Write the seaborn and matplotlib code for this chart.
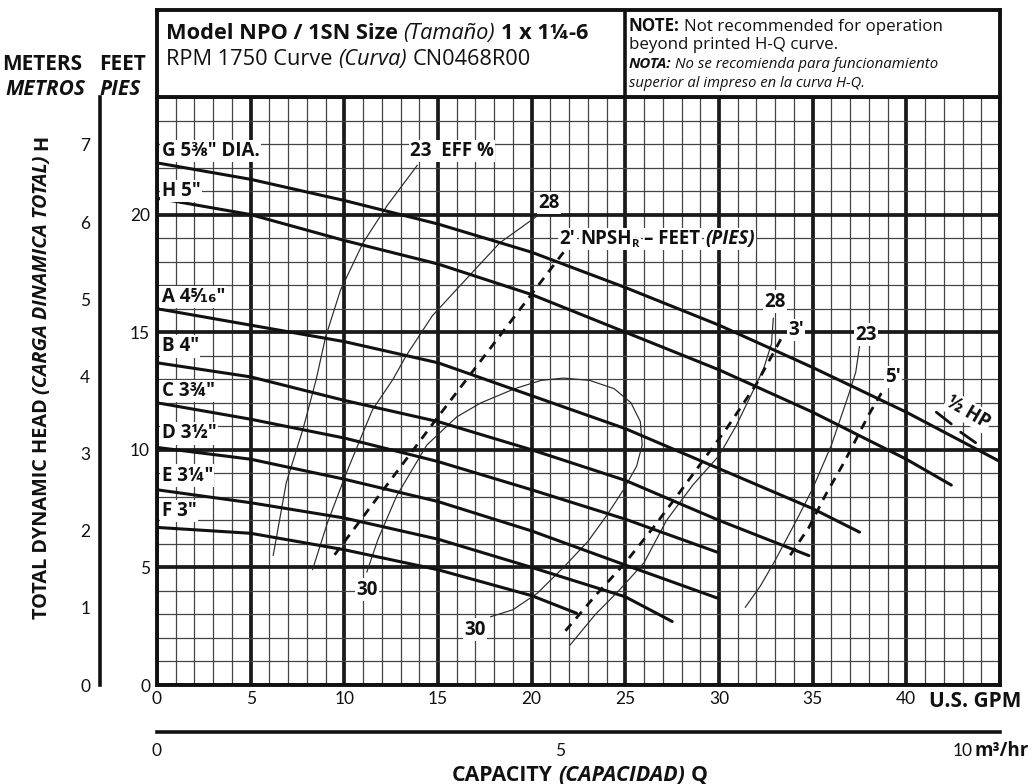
import numpy as np
import seaborn as sns
import matplotlib.pyplot as plt

sns.set_theme(style="white")
plt.rcParams['font.family'] = ['Open Sans', 'DejaVu Sans']

W, H = 1033, 784
GPM_PER_M3HR = 4.3
TICK_FONT = ['Liberation Sans Narrow', 'Lato', 'DejaVu Sans']

# H-Q curves per impeller diameter (U.S. GPM, feet)
impellers = ['G 5⅜" DIA.', 'H 5"', 'A 4⁵⁄₁₆"', 'B 4"', 'C 3¾"', 'D 3½"', 'E 3¼"', 'F 3"']
g_gpm = [0, 5, 10, 15, 20, 25, 30, 35, 40, 45]
g_head = [22.2, 21.5, 20.6, 19.6, 18.4, 16.9, 15.3, 13.5, 11.6, 9.5]
h_gpm = [0, 5, 10, 15, 20, 25, 30, 35, 40, 42.4]
h_head = [20.7, 20.0, 18.9, 17.9, 16.6, 15.0, 13.4, 11.6, 9.6, 8.5]
a_gpm = [0, 5, 10, 15, 20, 25, 30, 35, 37.5]
a_head = [16.0, 15.3, 14.6, 13.7, 12.3, 10.9, 9.2, 7.5, 6.5]
b_gpm = [0, 5, 10, 15, 20, 25, 30, 34.8]
b_head = [13.7, 13.1, 12.1, 11.2, 10.0, 8.7, 7.0, 5.5]
c_gpm = [0, 5, 10, 15, 20, 25, 29.9]
c_head = [12.0, 11.3, 10.5, 9.5, 8.3, 7.05, 5.65]
d_gpm = [0, 5, 10, 15, 20, 25, 29.9]
d_head = [10.1, 9.6, 8.75, 7.8, 6.55, 5.1, 3.7]
e_gpm = [0, 5, 10, 15, 20, 25, 27.5]
e_head = [8.3, 7.75, 7.1, 6.2, 5.0, 3.75, 2.7]
f_gpm = [0, 5, 10, 15, 20, 22.4]
f_head = [6.7, 6.45, 5.75, 4.9, 3.8, 3.05]
label_head = [22.7, 21.0, 16.5, 14.4, 12.5, 10.7, 8.9, 7.4]

# efficiency lines (%)
eff23_left_gpm = [13.9, 12.3, 11.0, 9.8, 9.0, 8.5, 7.8, 6.9, 6.2]
eff23_left_head = [22.1, 20.4, 18.8, 16.8, 14.8, 13.0, 10.9, 8.6, 5.5]
eff28_left_gpm = [20.4, 18.3, 16.9, 14.7, 13.3, 12.6, 11.5, 10.1, 9.1, 8.3]
eff28_left_head = [20.0, 18.8, 17.6, 15.7, 14.0, 13.0, 11.7, 9.0, 6.9, 4.9]
eff30_gpm = [11.2, 11.8, 12.8, 14.4, 16.0, 17.3, 19.1, 20.5, 21.7, 23.1, 24.4,
             25.3, 25.8, 25.9, 25.6, 24.9, 24.0, 23.0, 21.7, 20.3, 19.0, 17.8]
eff30_head = [4.8, 6.2, 8.05, 10.2, 11.4, 12.0, 12.6, 12.95, 13.05, 12.95, 12.6,
              12.0, 11.2, 10.2, 9.3, 8.3, 7.2, 6.1, 5.0, 3.9, 3.2, 2.9]
eff28_right_gpm = [32.9, 32.8, 32.4, 32.0, 30.9, 30.0, 28.6, 27.2, 26.0, 24.7, 23.4, 22.05]
eff28_right_head = [15.6, 14.5, 13.5, 12.8, 11.0, 9.75, 8.5, 7.0, 5.2, 4.05, 3.0, 1.7]
eff23_right_gpm = [37.5, 37.3, 36.9, 36.0, 35.0, 34.1, 33.0, 32.2, 31.4]
eff23_right_head = [14.4, 13.3, 12.3, 10.2, 8.35, 6.95, 5.3, 4.2, 3.3]

# NPSH required (feet)
npsh2_gpm = [21.7, 15.0, 9.4]
npsh2_head = [18.4, 11.4, 5.45]
npsh3_gpm = [33.3, 32.0, 30.4, 28.0, 26.5, 25.0, 23.4, 21.8]
npsh3_head = [14.7, 12.8, 10.9, 8.3, 6.7, 5.2, 3.8, 2.3]
npsh5_gpm = [39.1, 38.0, 36.7, 35.7, 34.8, 33.7]
npsh5_head = [13.0, 11.5, 9.5, 8.1, 6.7, 5.4]

# 1/2 HP marker
hp_gpm_1, hp_head_1 = [41.6, 42.4], [11.6, 11.1]
hp_gpm_2, hp_head_2 = [42.9, 43.7], [10.75, 10.3]

x_ticks = [0, 5, 10, 15, 20, 25, 30, 35, 40, 45]
x_labels = ['0', '5', '10', '15', '20', '25', '30', '35', '40', '']
y_ticks = [0, 5, 10, 15, 20, 25]
y_labels = ['0', '5', '10', '15', '20', '']
m_ticks = [0, 1, 2, 3, 4, 5, 6, 7]
q_ticks = [0, 5, 10]

fig = plt.figure(figsize=(W / 100, H / 100), dpi=100)


def box(left, top, right, bottom):
    return [left / W, 1 - bottom / H, (right - left) / W, (bottom - top) / H]


def rich(x, y, pieces, size, align='left', vertical=False, white=False):
    """Write pieces (text, weight, style[, scale, rise]) one after another.
    x, y are figure pixels from the top left; y is the baseline
    (or the centre, for vertical text)."""
    r = fig.canvas.get_renderer()
    space = size * 0.26 * 100 / 72
    placed, run = [], 0.0
    for p in pieces:
        s, weight, style = p[:3]
        scale = p[3] if len(p) > 3 else 1.0
        rise = p[4] if len(p) > 4 else 0.0
        if s.startswith(' '):
            run += space
            s = s.lstrip()
        kw = dict(fontsize=size * scale, fontweight=weight, fontstyle=style,
                  color='#111111', zorder=6)
        if white:
            kw['bbox'] = dict(facecolor='white', edgecolor='none', pad=1)
        if vertical:
            t = fig.text(0, 0, s, rotation=90, ha='center', va='bottom', **kw)
        else:
            t = fig.text(0, 0, s, ha='left', va='baseline', **kw)
        ext = t.get_window_extent(r)
        placed.append((t, run, rise))
        run += ext.height if vertical else ext.width
    start = run / 2 if (align == 'center' or vertical) else 0.0
    for t, off, rise in placed:
        if vertical:
            t.set_position((x / W, 1 - (y + start - off) / H))
        else:
            t.set_position(((x - start + off) / W, 1 - (y - rise) / H))


# main grid
ax = fig.add_axes(box(157, 97, 1000, 685))
ax.set_xlim(0, 45)
ax.set_ylim(0, 25)
ax.set_xticks(x_ticks)
ax.set_xticks(np.arange(0, 46, 1), minor=True)
ax.set_yticks(y_ticks)
ax.set_yticks(np.arange(0, 26, 1), minor=True)
ax.set_xticklabels(x_labels, family=TICK_FONT)
ax.set_yticklabels(y_labels, family=TICK_FONT)
ax.grid(True, which='major', color='#1a1a1a', linewidth=2.7)
ax.grid(True, which='minor', color='#444444', linewidth=0.9)
ax.set_axisbelow(True)
ax.tick_params(which='both', length=0, labelsize=12.5, colors='#111111')
ax.tick_params(axis='x', pad=4)
ax.tick_params(axis='y', pad=5)
for sp in ax.spines.values():
    sp.set_linewidth(2.8)
    sp.set_color('#111111')

curves = [(g_gpm, g_head), (h_gpm, h_head), (a_gpm, a_head), (b_gpm, b_head),
          (c_gpm, c_head), (d_gpm, d_head), (e_gpm, e_head), (f_gpm, f_head)]
for xs, ys in curves:
    sns.lineplot(x=xs, y=ys, ax=ax, color='#111111', linewidth=2.2,
                 estimator=None, sort=False, zorder=4)

effs = [(eff23_left_gpm, eff23_left_head), (eff28_left_gpm, eff28_left_head),
        (eff30_gpm, eff30_head), (eff28_right_gpm, eff28_right_head),
        (eff23_right_gpm, eff23_right_head)]
for xs, ys in effs:
    sns.lineplot(x=xs, y=ys, ax=ax, color='#2a2a2a', linewidth=0.85,
                 estimator=None, sort=False, zorder=3)

for xs, ys in [(npsh2_gpm, npsh2_head), (npsh3_gpm, npsh3_head), (npsh5_gpm, npsh5_head)]:
    sns.lineplot(x=xs, y=ys, ax=ax, color='#111111', linewidth=2.0,
                 linestyle=(0, (3.2, 2.6)), estimator=None, sort=False, zorder=4)

for xs, ys in [(hp_gpm_1, hp_head_1), (hp_gpm_2, hp_head_2)]:
    sns.lineplot(x=xs, y=ys, ax=ax, color='#111111', linewidth=2.0,
                 estimator=None, sort=False, zorder=4)

ax.set_xlim(0, 45)
ax.set_ylim(0, 25)
ax.set_xlabel('')
ax.set_ylabel('')

lbl = dict(fontsize=13.5, fontweight='bold', color='#111111', zorder=6,
           bbox=dict(facecolor='white', edgecolor='none', pad=1))
for name, yy in zip(impellers, label_head):
    ax.text(0.25, yy, name, ha='left', va='center', **lbl)

ax.text(13.5, 22.7, '23  EFF %', ha='left', va='center', **lbl)
ax.text(20.9, 20.5, '28', ha='center', va='center', **lbl)
ax.text(33.0, 16.3, '28', ha='center', va='center', **lbl)
ax.text(34.1, 15.1, "3'", ha='center', va='center', **lbl)
ax.text(37.85, 14.9, '23', ha='center', va='center', **lbl)
ax.text(39.3, 13.1, "5'", ha='center', va='center', **lbl)
ax.text(11.2, 4.05, '30', ha='center', va='center', **lbl)
ax.text(17.0, 2.35, '30', ha='center', va='center', **lbl)
ax.text(43.3, 11.6, '½ HP', ha='center', va='center', rotation=-30, **lbl)

# NPSH label, anchored at the top of the 2' line
px, py = ax.transData.transform((21.5, 18.75))
rich(px, H - py, [("2'", 'bold', 'normal'), (" NPSH", 'bold', 'normal'),
                  ("R", 'bold', 'normal', 0.6, -3), (" – FEET", 'bold', 'normal'),
                  (" (PIES)", 'bold', 'italic')], 13.5, white=True)

# title block
ax_t = fig.add_axes(box(157, 10, 1000, 97))
ax_t.set_xlim(0, 1)
ax_t.set_xticks([])
ax_t.set_yticks([])
for sp in ax_t.spines.values():
    sp.set_linewidth(2.8)
    sp.set_color('#111111')
ax_t.axvline((625 - 157) / 843, color='#111111', linewidth=2.6)

rich(166, 39, [("Model NPO / 1SN Size", 'bold', 'normal'), (" (Tamaño)", 'normal', 'italic'),
               (" 1 x 1¼-6", 'bold', 'normal')], 15.7)
rich(166, 65, [("RPM 1750 Curve", 'normal', 'normal'), (" (Curva)", 'normal', 'italic'),
               (" CN0468R00", 'normal', 'normal')], 15.7)
rich(629, 31, [("NOTE:", 'bold', 'normal'), (" Not recommended for operation", 'normal', 'normal')], 12.2)
rich(629, 49, [("beyond printed H-Q curve.", 'normal', 'normal')], 12.2)
rich(629, 68, [("NOTA:", 'bold', 'italic'), (" No se recomienda para funcionamiento", 'normal', 'italic')], 10.8)
rich(629, 87, [("superior al impreso en la curva H-Q.", 'normal', 'italic')], 10.6)

# unit headings
head = dict(fontsize=15, fontweight='bold', color='#111111')
fig.text(2 / W, 1 - 70 / H, 'METERS', **head)
fig.text(99 / W, 1 - 70 / H, 'FEET', **head)
fig.text(5 / W, 1 - 95 / H, 'METROS', fontstyle='italic', **head)
fig.text(99 / W, 1 - 95 / H, 'PIES', fontstyle='italic', **head)

# meters scale
ax_m = fig.add_axes(box(100, 97, 101, 685))
ax_m.set_ylim(0, 25 * 0.3048)
ax_m.set_yticks(m_ticks)
ax_m.set_yticklabels([str(m) for m in m_ticks], family=TICK_FONT)
ax_m.set_xticks([])
ax_m.patch.set_alpha(0)
for k in ['top', 'right', 'bottom']:
    ax_m.spines[k].set_visible(False)
ax_m.spines['left'].set_linewidth(2.6)
ax_m.spines['left'].set_color('#111111')
ax_m.tick_params(axis='y', direction='in', length=7, width=2.2, pad=7,
                 labelsize=12.5, colors='#111111')

# m3/hr scale
ax_q = fig.add_axes(box(157, 731, 1000, 732))
ax_q.set_xlim(0, 45)
ax_q.set_xticks([q * GPM_PER_M3HR for q in q_ticks])
ax_q.set_xticklabels([str(q) for q in q_ticks], family=TICK_FONT)
ax_q.set_yticks([])
ax_q.patch.set_alpha(0)
for k in ['top', 'right', 'left']:
    ax_q.spines[k].set_visible(False)
ax_q.spines['bottom'].set_linewidth(2.6)
ax_q.spines['bottom'].set_color('#111111')
ax_q.tick_params(axis='x', direction='in', length=6.5, width=2.2, pad=8,
                 labelsize=12.5, colors='#111111')
qx, _ = ax_q.transData.transform((10 * GPM_PER_M3HR, 0))
fig.text((qx + 12) / W, 1 - 756 / H, 'm³/hr', fontsize=13.5, fontweight='bold',
         va='baseline', color='#111111')

fig.text(929 / W, 1 - 707 / H, 'U.S. GPM', fontsize=15, fontweight='bold',
         ha='left', va='baseline', color='#111111')

rich(580, 781, [("CAPACITY", 'bold', 'normal'), (" (CAPACIDAD)", 'bold', 'italic'),
                (" Q", 'bold', 'normal')], 15.3, align='center')
rich(42, 377, [("TOTAL DYNAMIC HEAD", 'bold', 'normal'),
               (" (CARGA DINAMICA TOTAL)", 'bold', 'italic'), (" H", 'bold', 'normal')],
     14.3, vertical=True)

fig.savefig('out.png', dpi=100, facecolor='white')
